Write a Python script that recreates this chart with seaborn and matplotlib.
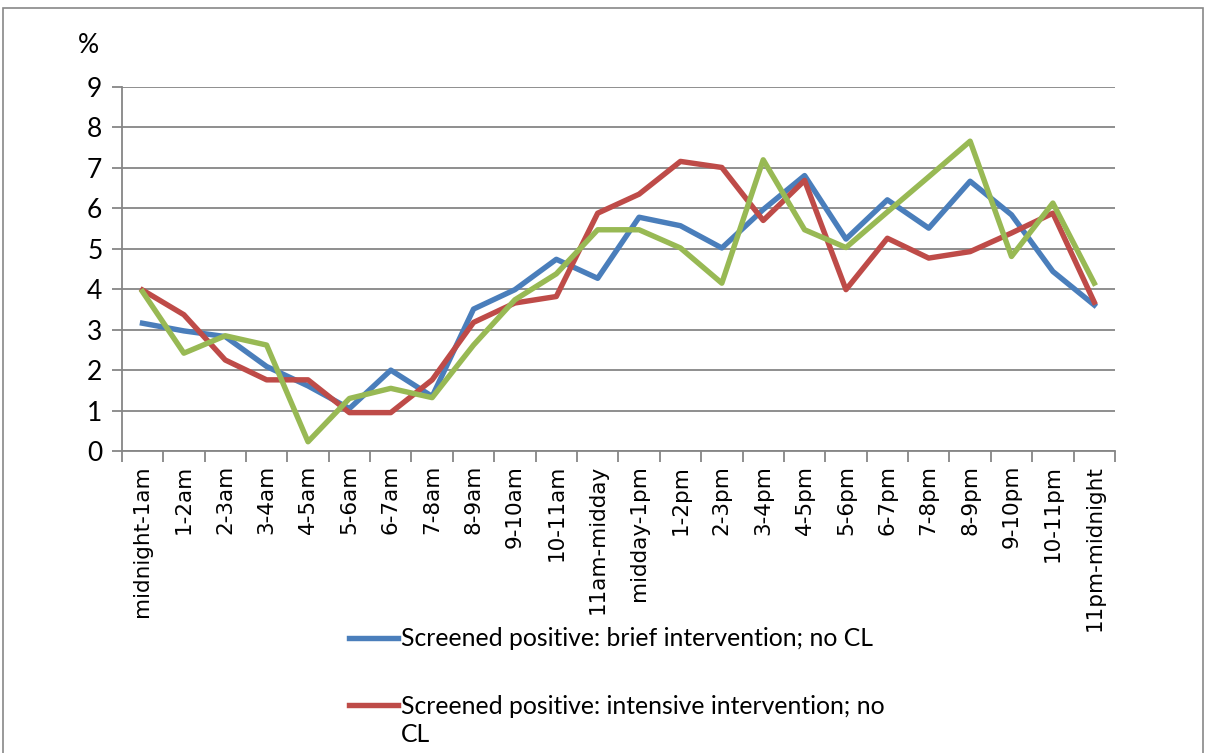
import numpy as np
import pandas as pd
import matplotlib
matplotlib.use("Agg")
import matplotlib.pyplot as plt
import seaborn as sns
from matplotlib.patches import Rectangle

# hour-of-day categories
hours = ["midnight-1am", "1-2am", "2-3am", "3-4am", "4-5am", "5-6am", "6-7am",
         "7-8am", "8-9am", "9-10am", "10-11am", "11am-midday", "midday-1pm",
         "1-2pm", "2-3pm", "3-4pm", "4-5pm", "5-6pm", "6-7pm", "7-8pm",
         "8-9pm", "9-10pm", "10-11pm", "11pm-midnight"]

# % per hour
brief = [3.16, 2.97, 2.83, 2.09, 1.61, 1.05, 2.0, 1.35, 3.51, 3.99, 4.74, 4.27,
         5.78, 5.57, 5.02, 5.97, 6.81, 5.24, 6.21, 5.51, 6.67, 5.84, 4.44, 3.61]
intensive = [3.98, 3.37, 2.25, 1.76, 1.76, 0.95, 0.95, 1.76, 3.18, 3.66, 3.82, 5.88,
             6.35, 7.16, 7.01, 5.70, 6.69, 3.99, 5.26, 4.77, 4.93, 5.39, 5.88, 3.68]
third = [3.94, 2.42, 2.85, 2.62, 0.23, 1.30, 1.55, 1.32, 2.62, 3.74, 4.38, 5.47,
         5.47, 5.02, 4.15, 7.20, 5.47, 5.03, 5.91, 6.78, 7.66, 4.81, 6.13, 4.15]

series_names = ["Screened positive: brief intervention; no CL",
                "Screened positive: intensive intervention; no",
                "third"]
colors = ["#4A7EBB", "#BE4B48", "#98B954"]

df = pd.DataFrame({
    "hour": hours * 3,
    "pct": brief + intensive + third,
    "series": np.repeat(series_names, len(hours)),
})

fig = plt.figure(figsize=(12.06, 7.53), dpi=100)
ax = fig.add_axes([0.101, 0.401, 0.8235, 0.4835])

sns.lineplot(data=df, x="hour", y="pct", hue="series", palette=colors,
             linewidth=3.9, sort=False, ax=ax, legend=False)

grid_c = "#868686"
ax.set_xlim(-0.5, len(hours) - 0.5)
ax.set_ylim(0, 9)
ax.set_yticks(range(10))
ax.set_xticks(range(len(hours)))
ax.set_xticklabels(hours, rotation=90, fontsize=15.5, family="DejaVu Sans")
ax.set_xticks(np.arange(-0.5, len(hours)), minor=True)
ax.tick_params(axis="x", which="major", length=0, pad=10)
ax.tick_params(axis="x", which="minor", length=8, width=1.3, color=grid_c)
ax.tick_params(axis="y", length=7, width=1.3, color=grid_c, labelsize=19, pad=7)
for lbl in ax.get_yticklabels():
    lbl.set_family("Lato")
ax.yaxis.grid(True, color=grid_c, linewidth=1.3)
ax.set_axisbelow(True)
for s in ["top", "right"]:
    ax.spines[s].set_visible(False)
for s in ["left", "bottom"]:
    ax.spines[s].set_color(grid_c)
    ax.spines[s].set_linewidth(1.3)
ax.set_xlabel("")
ax.set_ylabel("")

fig.text(0.073, 0.94, "%", fontsize=19, family="Lato", ha="center", va="center")

# legend (only the first two entries are visible in the picture)
handles = ax.get_lines()[:2]
leg = fig.legend(handles, series_names[:2], loc="upper left", bbox_to_anchor=(0.281, 0.18),
                 frameon=False, prop={"family": "Lato", "size": 17.8}, handlelength=2.0,
                 handletextpad=0.12, labelspacing=1.8, borderaxespad=0)
# wrapped tail of the second legend label
fig.canvas.draw()
t2 = leg.get_texts()[1].get_window_extent()
fig.text(t2.x0 / fig.bbox.width, (t2.y0 - 5) / fig.bbox.height, "CL",
         family="Lato", fontsize=17.8, ha="left", va="top")

fig.patches.append(Rectangle((0.0025, -0.02), 0.995, 1.009, transform=fig.transFigure,
                             fill=False, edgecolor="#888888", linewidth=1.2))

plt.savefig("out.png", dpi=100)
